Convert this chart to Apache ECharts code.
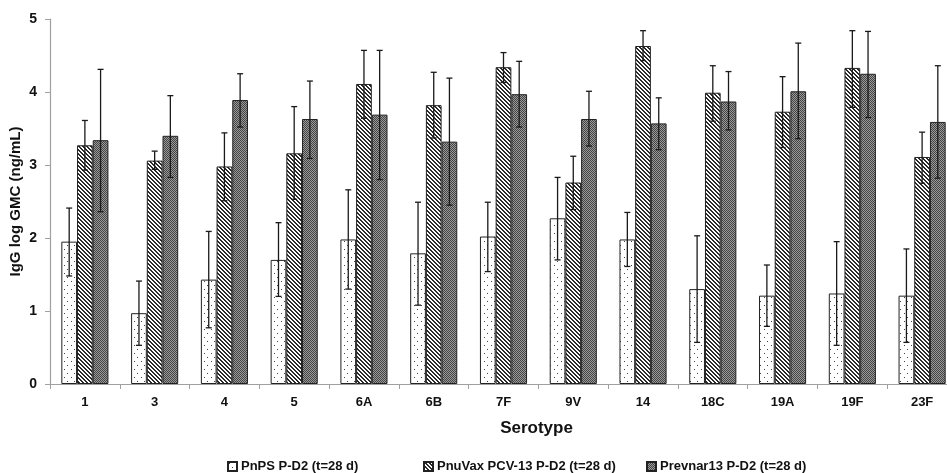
<!DOCTYPE html>
<html>
<head>
<meta charset="utf-8">
<script src="https://cdn.jsdelivr.net/npm/echarts@6/dist/echarts.min.js"></script>
<style>
html,body{margin:0;padding:0;background:#fff;}
#chart{width:947px;height:473px;}
</style>
</head>
<body>
<div id="chart"></div>
<script>
const categories = ['1','3','4','5','6A','6B','7F','9V','14','18C','19A','19F','23F'];
const seriesNames = ['PnPS P-D2 (t=28 d)', 'PnuVax PCV-13 P-D2 (t=28 d)', 'Prevnar13 P-D2 (t=28 d)'];

const pnps      = [1.95, 0.97, 1.43, 1.70, 1.98, 1.79, 2.02, 2.27, 1.98, 1.30, 1.21, 1.24, 1.21];
const pnpsLow   = [1.48, 0.53, 0.77, 1.20, 1.30, 1.08, 1.54, 1.70, 1.61, 0.57, 0.79, 0.53, 0.57];
const pnpsHigh  = [2.41, 1.41, 2.09, 2.21, 2.66, 2.49, 2.49, 2.83, 2.35, 2.03, 1.63, 1.95, 1.85];

const pnuvax     = [3.27, 3.06, 2.98, 3.16, 4.11, 3.82, 4.34, 2.76, 4.63, 3.99, 3.73, 4.33, 3.11];
const pnuvaxLow  = [2.93, 2.94, 2.51, 2.53, 3.64, 3.37, 4.13, 2.39, 4.43, 3.60, 3.24, 3.79, 2.75];
const pnuvaxHigh = [3.61, 3.19, 3.44, 3.80, 4.57, 4.27, 4.54, 3.12, 4.84, 4.36, 4.21, 4.84, 3.45];

const prevnar     = [3.34, 3.40, 3.89, 3.63, 3.69, 3.32, 3.97, 3.63, 3.57, 3.87, 4.01, 4.25, 3.59];
const prevnarLow  = [2.36, 2.83, 3.52, 3.09, 2.80, 2.45, 3.52, 3.26, 3.21, 3.48, 3.36, 3.65, 2.82];
const prevnarHigh = [4.31, 3.95, 4.25, 4.15, 4.57, 4.19, 4.42, 4.01, 3.92, 4.28, 4.67, 4.83, 4.36];

const yTicks = [0, 1, 2, 3, 4, 5];

const FONT = "'Liberation Sans', Arial, sans-serif";
const BAR_FRAC = 0.225;

function makeCanvas(w, h, draw) {
  const c = document.createElement('canvas');
  c.width = w; c.height = h;
  const ctx = c.getContext('2d');
  draw(ctx);
  return c;
}
const dotPattern = makeCanvas(7, 8, ctx => {
  ctx.fillStyle = '#fff'; ctx.fillRect(0, 0, 7, 8);
  ctx.fillStyle = '#444';
  ctx.fillRect(1, 1, 1, 1);
  ctx.fillRect(4, 5, 1, 1);
});
const hatchPattern = makeCanvas(4, 4, ctx => {
  ctx.fillStyle = '#fff'; ctx.fillRect(0, 0, 4, 4);
  ctx.fillStyle = '#2a2a2a';
  for (let i = 0; i < 4; i++) {
    ctx.fillRect(i, i, 1, 1);
    ctx.fillRect((i + 1) % 4, i, 1, 1);
  }
});
const checkPattern = makeCanvas(2, 2, ctx => {
  ctx.fillStyle = '#9a9a9a'; ctx.fillRect(0, 0, 2, 2);
  ctx.fillStyle = '#444';
  ctx.fillRect(0, 0, 1, 1);
  ctx.fillRect(1, 1, 1, 1);
});
const fills = [
  { image: dotPattern, repeat: 'repeat' },
  { image: hatchPattern, repeat: 'repeat' },
  { image: checkPattern, repeat: 'repeat' }
];

const values = [pnps, pnuvax, prevnar];
const lows = [pnpsLow, pnuvaxLow, prevnarLow];
const highs = [pnpsHigh, pnuvaxHigh, prevnarHigh];

function errorRender(offset) {
  return function (params, api) {
    const xc = api.coord([api.value(0), 0])[0];
    const bw = api.size([1, 0])[0] * BAR_FRAC;
    const cx = xc + offset * bw;
    const yl = api.coord([api.value(0), api.value(1)])[1];
    const yh = api.coord([api.value(0), api.value(2)])[1];
    const cap = 3;
    const st = { stroke: '#1a1a1a', lineWidth: 1.3 };
    return {
      type: 'group',
      children: [
        { type: 'line', shape: { x1: cx, y1: yl, x2: cx, y2: yh }, style: st },
        { type: 'line', shape: { x1: cx - cap, y1: yh, x2: cx + cap, y2: yh }, style: st },
        { type: 'line', shape: { x1: cx - cap, y1: yl, x2: cx + cap, y2: yl }, style: st }
      ]
    };
  };
}

const series = [];
seriesNames.forEach((name, k) => {
  series.push({
    name: name,
    type: 'bar',
    data: values[k],
    barWidth: (BAR_FRAC * 100) + '%',
    barGap: '0%',
    itemStyle: { color: fills[k], borderColor: '#222', borderWidth: 1 },
    emphasis: { disabled: true },
    z: 2
  });
});
seriesNames.forEach((name, k) => {
  series.push({
    name: name + ' err',
    type: 'custom',
    renderItem: errorRender(k - 1),
    data: categories.map((c, i) => [i, lows[k][i], highs[k][i]]),
    encode: { x: 0, y: [1, 2] },
    z: 5,
    silent: true
  });
});

const legendLefts = [222, 418, 641];
const legends = seriesNames.map((name, k) => ({
  data: [name],
  left: legendLefts[k],
  top: 455,
  icon: 'rect',
  itemWidth: 9,
  itemHeight: 9,
  itemGap: 4,
  textStyle: { fontFamily: FONT, fontWeight: 'bold', fontSize: 13, color: '#111', padding: [0, 0, 0, -1] },
  selectedMode: false
}));

const chart = echarts.init(document.getElementById('chart'), null, { renderer: 'canvas' });
chart.setOption({
  animation: false,
  backgroundColor: '#fff',
  grid: { left: 50, right: -10, top: 19, bottom: 89, containLabel: false, outerBoundsMode: 'none' },
  legend: legends,
  xAxis: {
    type: 'category',
    data: categories,
    boundaryGap: true,
    name: 'Serotype',
    nameLocation: 'middle',
    nameGap: 36,
    nameMoveOverlap: false,
    nameTextStyle: { fontFamily: FONT, fontWeight: 'bold', fontSize: 17, color: '#111', verticalAlign: 'top', padding: [0, 0, 0, 66] },
    axisLine: { show: true, lineStyle: { color: '#a0a0a0', width: 1.2 } },
    axisTick: { show: true, alignWithLabel: false, interval: 0, length: 5, lineStyle: { color: '#a0a0a0' } },
    axisLabel: { interval: 0, margin: 12, fontFamily: FONT, fontWeight: 'bold', fontSize: 13, color: '#111' }
  },
  yAxis: {
    type: 'value',
    min: yTicks[0],
    max: yTicks[yTicks.length - 1],
    interval: 1,
    name: 'IgG log GMC (ng/mL)',
    nameLocation: 'middle',
    nameGap: 27,
    nameMoveOverlap: false,
    nameRotate: 90,
    nameTextStyle: { fontFamily: FONT, fontWeight: 'bold', fontSize: 15, color: '#111' },
    axisLine: { show: true, lineStyle: { color: '#a0a0a0', width: 1.2 } },
    axisTick: { show: true, length: 5, lineStyle: { color: '#a0a0a0' } },
    splitLine: { show: false },
    axisLabel: { margin: 13, fontFamily: FONT, fontWeight: 'bold', fontSize: 14, color: '#111' }
  },
  series: series
});
</script>
</body>
</html>
